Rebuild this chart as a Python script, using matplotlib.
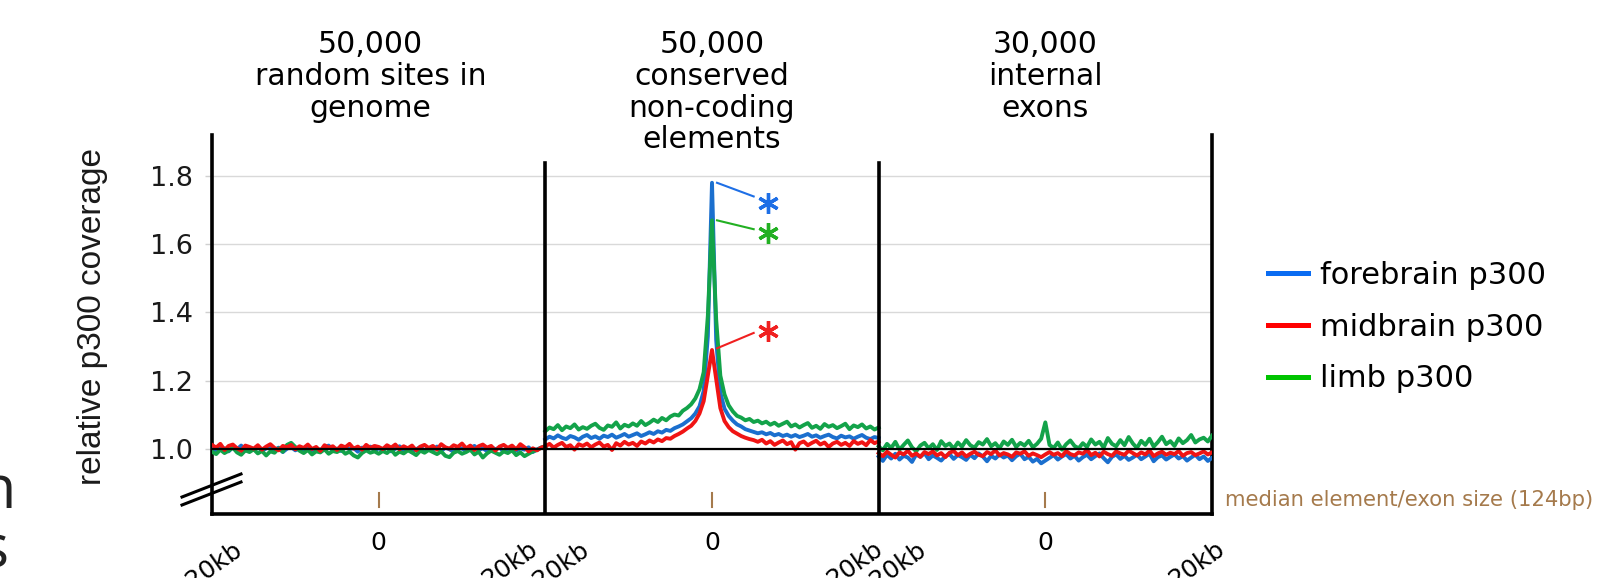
import numpy as np
import matplotlib
matplotlib.use("Agg")
import matplotlib.pyplot as plt
import matplotlib.transforms as mtransforms
from matplotlib.lines import Line2D

W, H = 1598, 578

# position in kb around each element, 0.5 kb steps
positions = np.linspace(-20, 20, 81)

panel_titles = [
    "50,000\nrandom sites in\ngenome",
    "50,000\nconserved\nnon-coding\nelements",
    "30,000\ninternal\nexons",
]
series_names = ["forebrain p300", "midbrain p300", "limb p300"]

# panel 1: random sites
forebrain_random = [
    1.004, 0.996, 1.008, 1.001, 0.993, 1.006, 0.999, 1.010, 0.995, 1.003,
    0.998, 1.007, 0.994, 1.002, 1.009, 0.997, 1.004, 0.991, 1.001, 1.006,
    0.996, 1.003, 0.999, 1.008, 0.993, 1.002, 0.997, 1.005, 1.010, 0.995,
    1.001, 0.994, 1.006, 0.999, 1.003, 0.992, 1.004, 0.998, 1.007, 0.996,
    1.002,
    0.997, 1.005, 0.993, 1.001, 1.008, 0.996, 1.003, 0.990, 0.999, 1.006,
    0.995, 1.002, 0.998, 1.007, 0.994, 1.004, 0.999, 0.992, 1.005, 1.001,
    0.996, 1.003, 1.009, 0.997, 1.002, 0.994, 1.006, 0.999, 1.004, 0.993,
    1.000, 1.007, 0.995, 1.002, 0.998, 1.005, 0.991, 0.999, 1.004, 1.002,
]
midbrain_random = [
    1.012, 1.004, 1.015, 0.997, 1.009, 1.013, 1.002, 0.995, 1.010, 1.006,
    1.001, 1.011, 0.998, 1.007, 1.014, 1.003, 0.996, 1.009, 1.005, 1.012,
    0.999, 1.008, 1.003, 1.013, 1.000, 1.006, 0.994, 1.011, 1.004, 1.008,
    0.997, 1.010, 1.005, 1.015, 1.001, 1.007, 0.998, 1.012, 1.003, 1.009,
    1.006,
    1.000, 1.011, 1.004, 1.013, 0.999, 1.008, 1.002, 1.010, 0.996, 1.007,
    1.012, 1.003, 1.009, 0.998, 1.014, 1.005, 1.001, 1.011, 1.006, 1.016,
    1.002, 1.010, 0.997, 1.008, 1.013, 1.004, 1.009, 0.995, 1.007, 1.012,
    1.003, 1.010, 0.999, 1.014, 1.005, 0.993, 1.002, 0.996, 1.004, 1.008,
]
limb_random = [
    0.992, 0.985, 0.998, 0.988, 0.995, 1.004, 0.990, 0.983, 0.996, 0.991,
    0.999, 0.987, 0.994, 0.981, 0.993, 0.989, 1.002, 0.992, 1.012, 1.018,
    1.006, 0.995, 0.988, 0.997, 0.984, 0.993, 0.990, 0.999, 0.986, 0.994,
    0.991, 0.998, 0.986, 0.992, 0.981, 0.975, 0.988, 0.996, 0.989, 0.993,
    0.986,
    0.994, 0.988, 0.999, 0.983, 0.992, 0.987, 0.996, 0.990, 0.982, 0.995,
    0.989, 0.997, 0.991, 0.985, 0.993, 0.980, 0.976, 0.989, 0.994, 0.986,
    0.991, 0.998, 0.984, 0.992, 0.975, 0.987, 0.995, 0.989, 0.983, 0.993,
    0.988, 0.996, 0.982, 0.990, 0.979, 0.986, 0.993, 0.997, 1.004, 1.008,
]

# panel 2: conserved non-coding elements
forebrain_cne = [
    1.028, 1.036, 1.031, 1.040, 1.033, 1.029, 1.038, 1.034, 1.027, 1.036,
    1.041, 1.032, 1.037, 1.030, 1.039, 1.035, 1.042, 1.033, 1.038, 1.044,
    1.036, 1.041, 1.046, 1.038, 1.043, 1.049, 1.044, 1.052, 1.048, 1.056,
    1.053, 1.061, 1.066, 1.072, 1.081, 1.090, 1.104, 1.125, 1.170, 1.330,
    1.780,
    1.320, 1.165, 1.118, 1.097, 1.083, 1.072, 1.066, 1.058, 1.054, 1.050,
    1.046, 1.049, 1.043, 1.047, 1.040, 1.044, 1.038, 1.042, 1.036, 1.041,
    1.035, 1.039, 1.044, 1.036, 1.040, 1.033, 1.038, 1.042, 1.035, 1.031,
    1.039, 1.034, 1.037, 1.030, 1.036, 1.041, 1.033, 1.029, 1.035, 1.032,
]
midbrain_cne = [
    1.008, 1.015, 1.004, 1.012, 1.018, 1.006, 1.011, 0.998, 1.014, 1.009,
    1.016, 1.005, 1.013, 1.019, 1.007, 1.012, 0.997, 1.017, 1.010, 1.021,
    1.013, 1.018, 1.009, 1.022, 1.016, 1.025, 1.019, 1.028, 1.023, 1.032,
    1.030, 1.038, 1.044, 1.051, 1.060, 1.068, 1.082, 1.104, 1.140, 1.215,
    1.290,
    1.205, 1.120, 1.082, 1.064, 1.052, 1.045, 1.038, 1.033, 1.029, 1.026,
    1.021, 1.027, 1.016, 1.023, 1.012, 1.019, 1.025, 1.014, 1.020, 0.998,
    1.017, 1.022, 1.011, 1.018, 1.024, 1.013, 1.019, 1.006, 1.016, 1.021,
    1.012, 1.018, 1.009, 1.023, 1.015, 1.020, 1.011, 1.026, 1.017, 1.022,
]
limb_cne = [
    1.052, 1.063, 1.058, 1.070, 1.055, 1.066, 1.061, 1.072, 1.057, 1.064,
    1.059, 1.068, 1.074, 1.062, 1.056, 1.069, 1.065, 1.078, 1.060, 1.071,
    1.066, 1.075, 1.068, 1.082, 1.070, 1.077, 1.086, 1.079, 1.091, 1.084,
    1.095, 1.101, 1.098, 1.112, 1.120, 1.131, 1.148, 1.175, 1.225, 1.390,
    1.670,
    1.380, 1.215, 1.160, 1.128, 1.110, 1.097, 1.092, 1.084, 1.088, 1.079,
    1.083, 1.075, 1.080, 1.071, 1.077, 1.068, 1.074, 1.080, 1.066, 1.072,
    1.063, 1.070, 1.076, 1.062, 1.068, 1.059, 1.073, 1.065, 1.070, 1.061,
    1.067, 1.074, 1.058, 1.069, 1.064, 1.072, 1.060, 1.066, 1.057, 1.063,
]

# panel 3: internal exons
forebrain_exon = [
    0.978, 0.965, 0.983, 0.972, 0.986, 0.969, 0.980, 0.975, 0.962, 0.984,
    0.977, 0.988, 0.970, 0.981, 0.974, 0.966, 0.979, 0.985, 0.971, 0.982,
    0.976, 0.968, 0.983, 0.973, 0.987, 0.978, 0.964, 0.980, 0.972, 0.984,
    0.975, 0.981, 0.967, 0.979, 0.986, 0.970, 0.977, 0.963, 0.971, 0.958,
    0.966,
    0.974, 0.982, 0.969, 0.978, 0.985, 0.972, 0.980, 0.966, 0.976, 0.983,
    0.970, 0.979, 0.987, 0.973, 0.961, 0.977, 0.984, 0.971, 0.980, 0.968,
    0.975, 0.983, 0.970, 0.978, 0.986, 0.964, 0.976, 0.981, 0.969, 0.977,
    0.984, 0.972, 0.979, 0.966, 0.975, 0.983, 0.970, 0.978, 0.965, 0.974,
]
midbrain_exon = [
    0.988, 0.979, 0.992, 0.983, 0.975, 0.990, 0.984, 0.995, 0.980, 0.987,
    0.977, 0.991, 0.985, 0.993, 0.981, 0.988, 0.976, 0.989, 0.994, 0.982,
    0.990, 0.978, 0.986, 0.992, 0.983, 0.979, 0.991, 0.985, 0.996, 0.981,
    0.988, 0.984, 0.977, 0.990, 0.986, 0.993, 0.980, 0.987, 0.982, 0.976,
    0.984,
    0.991, 0.983, 0.988, 0.979, 0.994, 0.985, 0.981, 0.990, 0.986, 0.997,
    0.982, 0.989, 0.978, 0.992, 0.985, 0.980, 0.993, 0.987, 0.983, 0.995,
    0.988, 0.981, 0.990, 0.984, 0.996, 0.979, 0.987, 0.992, 0.983, 0.989,
    0.985, 0.994, 0.980, 0.988, 0.991, 0.982, 0.987, 0.993, 0.984, 0.990,
]
limb_exon = [
    1.008, 0.996, 1.015, 1.003, 1.021, 0.998, 1.012, 1.025, 1.005, 0.993,
    1.010, 1.018, 1.002, 1.014, 0.997, 1.023, 1.009, 1.016, 1.001, 1.019,
    1.007, 1.026, 1.011, 1.004, 1.020, 1.013, 1.029, 1.008, 1.017, 1.002,
    1.022, 1.012, 1.027, 1.006, 1.018, 1.010, 1.024, 1.005, 1.015, 1.030,
    1.078,
    1.012, 1.003, 1.019, 0.998, 1.014, 1.025, 1.009, 1.002, 1.017, 1.006,
    1.028, 1.013, 1.021, 1.004, 1.032, 1.015, 1.008, 1.026, 1.011, 1.035,
    1.016, 1.003, 1.024, 1.012, 1.030, 1.007, 1.020, 1.036, 1.014, 1.023,
    1.009, 1.031, 1.017, 1.026, 1.041, 1.019, 1.028, 1.033, 1.022, 1.039,
]

y_ticks = [1.0, 1.2, 1.4, 1.6, 1.8]
edge_labels = ["-20kb", "20kb"]
median_note = "median element/exon size (124bp)"

LINE_COLORS = {"forebrain p300": "#1b6fce", "midbrain p300": "#f01414", "limb p300": "#13a34a"}
LEGEND_COLORS = {"forebrain p300": "#0a6cf2", "midbrain p300": "#ff0000", "limb p300": "#00c400"}
STAR_COLORS = {"forebrain p300": "#1e6fe6", "midbrain p300": "#f02020", "limb p300": "#22b022"}
BROWN = "#a57a4c"


def px(x, y):
    # figure pixel -> figure fraction
    return x / W, 1 - y / H


def main():
    panels = [
        (forebrain_random, midbrain_random, limb_random),
        (forebrain_cne, midbrain_cne, limb_cne),
        (forebrain_exon, midbrain_exon, limb_exon),
    ]
    centers = [0, 40, 80]

    fig = plt.figure(figsize=(W / 100, H / 100), dpi=100)
    ax = fig.add_axes([212 / W, 1 - 514 / H, 1000 / W, 379 / H])
    ax.set_xlim(-20, 100)
    ax.set_ylim(0.8095, 1.920)

    for c, (fb, mb, lb) in zip(centers, panels):
        x = positions + c
        ax.plot(x, fb, color=LINE_COLORS["forebrain p300"], lw=2.8, zorder=3)
        ax.plot(x, lb, color=LINE_COLORS["limb p300"], lw=2.8, zorder=3)
        ax.plot(x, mb, color=LINE_COLORS["midbrain p300"], lw=2.8, zorder=3)
        # median element size marker
        ax.plot([c, c], [0.829, 0.871], color=BROWN, lw=1.5, zorder=2)

    ax.axhline(1.0, color="black", lw=1.6, zorder=4)

    # panel dividers
    for d in [20, 60]:
        ax.axvline(d, ymin=0, ymax=0.926, color="black", lw=2.6, zorder=5)

    for s in ["left", "right", "bottom"]:
        ax.spines[s].set_linewidth(2.6)
    ax.spines["top"].set_visible(False)

    ax.set_yticks(y_ticks)
    ax.set_yticklabels([f"{v:.1f}" for v in y_ticks], fontsize=19.5, color="#1a1a1a")
    ax.tick_params(axis="y", length=5, width=1, color="#d0d0d0", pad=9)
    ax.set_xticks([])
    ax.yaxis.grid(True, color="#d9d9d9", lw=1)
    ax.set_axisbelow(True)

    # x labels
    xtrans = mtransforms.blended_transform_factory(ax.transData, ax.transAxes)
    offsets = [(21, -17), (35, -5), (39, 3)]
    for c, (lo, hi) in zip(centers, offsets):
        ax.annotate("0", xy=(c, 0), xycoords=xtrans, xytext=(0, -29 / 1.389),
                    textcoords="offset points", ha="center", va="center", fontsize=18,
                    annotation_clip=False)
        for pos, dx, lab in [(c - 20, lo, edge_labels[0]), (c + 20, hi, edge_labels[1])]:
            ax.annotate(lab, xy=(pos, 0), xycoords=xtrans,
                        xytext=(dx / 1.389, -23 / 1.389), textcoords="offset points",
                        ha="right", va="top", rotation=35, rotation_mode="anchor",
                        fontsize=18, annotation_clip=False)

    # panel titles
    ttrans = mtransforms.blended_transform_factory(ax.transData, fig.transFigure)
    for c, t in zip([-1, 40, 80], panel_titles):
        ax.text(c, 1 - 30 / H, t, transform=ttrans, ha="center", va="top",
                fontsize=21.5, linespacing=1.12)

    # asterisks for the peaks
    stars = [("forebrain p300", forebrain_cne[40], 1.72),
             ("limb p300", limb_cne[40], 1.632),
             ("midbrain p300", midbrain_cne[40], 1.345)]
    for name, peak, ystar in stars:
        col = STAR_COLORS[name]
        y0 = peak if name != "midbrain p300" else peak + 0.005
        ax.plot([40.6, 45.0], [y0, ystar + (0.02 if name == "forebrain p300" else 0.012 if name == "limb p300" else -0.005)],
                color=col, lw=1.5, zorder=6)
        ax.plot([46.7], [ystar], marker=(6, 2, 0), ms=15, mew=2.4, color=col, zorder=6)

    # axis break
    for y0 in [497, 505]:
        xa, ya = px(182, y0)
        xb, yb = px(241, y0 - 23)
        fig.add_artist(Line2D([xa, xb], [ya, yb], color="black", lw=2.2))

    fig.text(*px(93, 316), "relative p300 coverage", rotation=90, ha="center", va="center",
             fontsize=24, family="Liberation Sans", color="#1a1a1a")

    handles = [Line2D([], [], color=LEGEND_COLORS[n], lw=3.6) for n in series_names]
    fig.legend(handles, series_names, loc="center left", bbox_to_anchor=px(1268, 327),
               frameon=False, fontsize=22, handlelength=1.3, handletextpad=0.4,
               labelspacing=0.75, borderpad=0, borderaxespad=0)

    fig.text(*px(1225, 500), median_note, ha="left", va="center", fontsize=15.2, color=BROWN)

    # leftover letters from the slide behind
    fig.text(*px(16, 492), "n", ha="right", va="center", fontsize=44, family="Open Sans", color="#222222")
    fig.text(*px(9, 552), "s", ha="right", va="center", fontsize=44, family="Open Sans", color="#222222")

    fig.savefig("out.png", dpi=100)


if __name__ == "__main__":
    main()
